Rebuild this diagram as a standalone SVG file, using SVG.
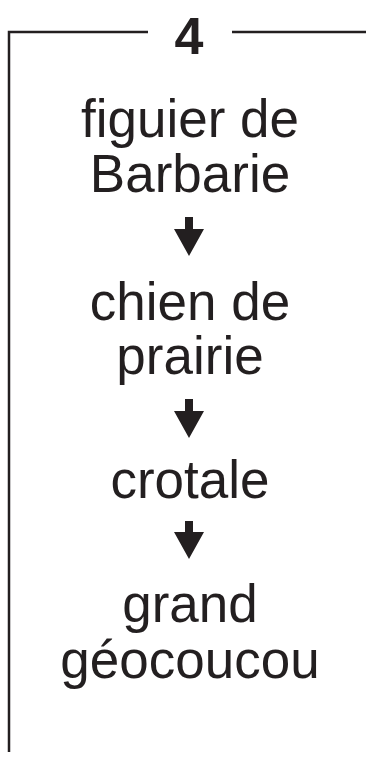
<svg xmlns="http://www.w3.org/2000/svg" width="366" height="761" viewBox="0 0 366 761">
<style>
.t{font-family:"Liberation Sans",Arial,sans-serif;font-size:53px;fill:#231f20;text-anchor:middle}
.n{font-family:"Liberation Sans",Arial,sans-serif;font-size:52px;font-weight:bold;fill:#231f20;text-anchor:middle}
.ln{stroke:#231f20;stroke-width:2.5;fill:none}
.ar{fill:#231f20}
</style>
<rect width="366" height="761" fill="#fff"/>
<g id="frame">
<path class="ln" d="M9,752 V32 H148 M232,32 H366"/>
<text class="n" x="189" y="54">4</text>
</g>
<g id="n1"><text class="t" x="190" y="137">figuier de</text><text class="t" x="190" y="192">Barbarie</text></g>
<g id="n2"><text class="t" x="190" y="320">chien de</text><text class="t" x="190" y="374">prairie</text></g>
<g id="n3"><text class="t" x="190" y="498">crotale</text></g>
<g id="n4"><text class="t" x="190" y="622">grand</text><text class="t" x="190" y="678">géocoucou</text></g>
<g id="connectors">
<path class="ar" d="M185,217 H193 V229 H204 L189,256 L174,229 H185 Z"/>
<path class="ar" d="M185,399 H193 V411 H204 L189,438 L174,411 H185 Z"/>
<path class="ar" d="M185,521 H193 V532 H204 L189,559 L174,532 H185 Z"/>
</g>
</svg>
